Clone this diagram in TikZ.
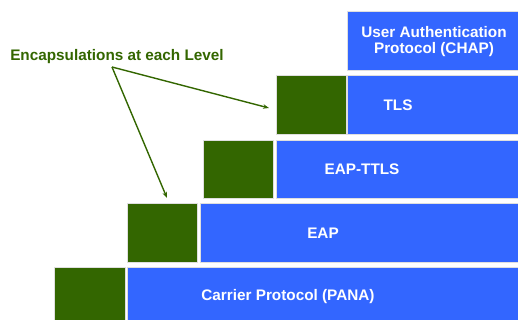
\documentclass[tikz,border=0pt]{standalone}
\usepackage{fontspec}
\setmainfont{Liberation Sans}
\usetikzlibrary{arrows.meta}
\definecolor{bluebox}{HTML}{3366FF}
\definecolor{greenbox}{HTML}{336600}
\begin{document}
\begin{tikzpicture}[x=1pt,y=-1pt,
  blk/.style={fill=bluebox,draw=gray!25,line width=0.8pt},
  grn/.style={fill=greenbox,draw=gray!25,line width=0.8pt},
  lbl/.style={text=white,font=\bfseries\fontsize{15.3}{17}\selectfont,align=center},
  arr/.style={draw=greenbox,line width=1.4pt,-{Stealth[length=6pt,width=4.5pt]}}]
\useasboundingbox (0,0) rectangle (518,320);
% boxes
\path[blk] (347,11) rectangle (520,70) coordinate (chapbr);
\path[grn] (276,75) rectangle (346,134);
\path[blk] (347,75) rectangle (520,134);
\path[grn] (203,140) rectangle (273,198);
\path[blk] (276,140) rectangle (520,198);
\path[grn] (127,203) rectangle (197,262);
\path[blk] (200,203) rectangle (520,262);
\path[grn] (54,267) rectangle (125,322);
\path[blk] (127.5,267) rectangle (520,322);
% labels
\node[lbl] (chap) at (434,42) {User Authentication\\[-1pt]Protocol (CHAP)};
\node[lbl] (tls) at (398,105) {TLS};
\node[lbl] (ttls) at (362,169) {EAP-TTLS};
\node[lbl] (eap) at (323,233) {EAP};
\node[lbl] (pana) at (288,297) {Carrier Protocol (PANA)};
\coordinate (tlsgrn) at (269,108);
\coordinate (eapgrn) at (167,198);
\node[text=greenbox,font=\bfseries\fontsize{15.3}{16}\selectfont] (enc) at (117,57) {Encapsulations at each Level};
\coordinate (src) at (112,67);
\draw[arr] (src) -- (tlsgrn);
\draw[arr] (src) -- (eapgrn);
\end{tikzpicture}
\end{document}
